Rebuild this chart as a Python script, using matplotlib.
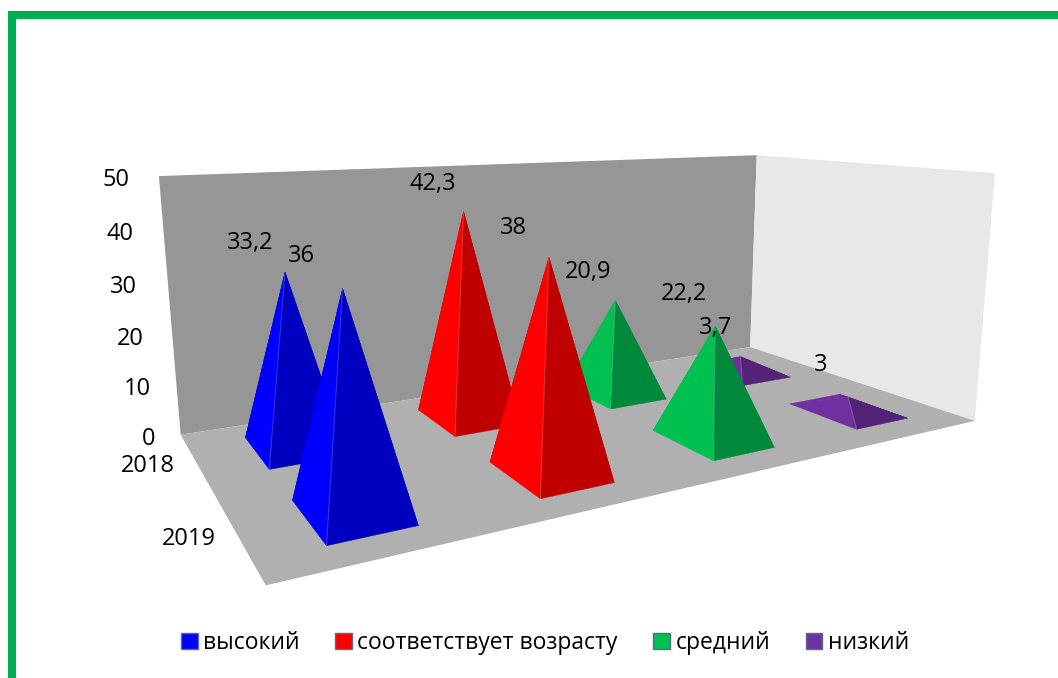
import numpy as np
import matplotlib
matplotlib.use('Agg')
import matplotlib.pyplot as plt
from matplotlib.patches import Patch, Rectangle
from mpl_toolkits.mplot3d import proj3d
from mpl_toolkits.mplot3d.art3d import Poly3DCollection

plt.rcParams['font.family'] = ['Open Sans', 'DejaVu Sans']

categories = ['высокий', 'соответствует возрасту', 'средний', 'низкий']
years = ['2019', '2018']
values_2018 = [33.2, 42.3, 20.9, 3.7]
values_2019 = [36, 38, 22.2, 3]
labels_2018 = ['33,2', '42,3', '20,9', '3,7']
labels_2019 = ['36', '38', '22,2', '3']
z_ticks = [0, 10, 20, 30, 40, 50]

light = ['#0000FF', '#FF0000', '#00C050', '#7030A0']
dark = ['#0000C0', '#C00000', '#00893A', '#542378']

# label nudges in pixels, the original chart does not place them evenly
offsets_2018 = [(-35, 29), (-31, 27), (-27, 28), (-25, 29)]
offsets_2019 = [(-41, 33), (-36, 29), (-31, 32), (-27, 32)]
tick_dx = [-32, -39, -42, -44, -43, -43]

W, H = 1058, 678
half_w, half_d = 0.2013, 0.2743
font_size = 17

fig = plt.figure(figsize=(W / 100, H / 100), dpi=100)
# camera settings fitted to the corners of the original box
ax = fig.add_axes([160.09 / W, -52.74 / H, 830.32 / W, 830.32 / H], projection='3d', computed_zorder=False)
ax.set_xlim(0, 4, view_margin=0)
ax.set_ylim(0, 2, view_margin=0)
ax.set_zlim(0, 50, view_margin=0)
ax.view_init(elev=11.58, azim=-120.1, roll=-0.04)
ax.set_proj_type('persp', focal_length=0.2246)
ax.set_box_aspect((2.818, 1.427, 1))
ax.set_axis_off()
M = ax.get_proj()


def add_polys(faces, colors, zorder, lw=0):
    poly = Poly3DCollection(faces, facecolors=colors, edgecolors=colors if lw else 'none', linewidths=lw, zorder=zorder)
    poly.set_clip_on(False)
    ax.add_collection3d(poly)


def pyramid(xc, yc, h, colors, zorder):
    x0, x1, y0, y1 = xc - half_w, xc + half_w, yc - half_d, yc + half_d
    tip = (xc, yc, h)
    faces = [[(x0, y1, 0), (x1, y1, 0), tip], [(x1, y1, 0), (x1, y0, 0), tip],
             [(x0, y1, 0), (x0, y0, 0), tip], [(x0, y0, 0), (x1, y0, 0), tip]]
    add_polys(faces, [colors[0], colors[1], colors[0], colors[1]], zorder, lw=0.3)
    # faint lighter line on the front ridge
    ax.plot([x0, xc], [y0, yc], [0, h], color='white', alpha=0.2, lw=0.8, zorder=zorder + 0.5)


def label3d(x, y, z, text, offset):
    u, v, _ = proj3d.proj_transform(x, y, z, M)
    ax.annotate(text, xy=(u, v), xytext=offset, textcoords='offset pixels', ha='center', va='center',
                fontsize=font_size, color='black', annotation_clip=False, zorder=30)


# walls and floor
add_polys([[(0, 2, 0), (4, 2, 0), (4, 2, 50), (0, 2, 50)]], '#969696', 1)
add_polys([[(4, 2, 0), (4, 0, 0), (4, 0, 50), (4, 2, 50)]], '#E8E8E8', 1)
add_polys([[(0, 0, 0), (4, 0, 0), (4, 2, 0), (0, 2, 0)]], '#B0B0B0', 2)

# back row first so the 2019 row covers it
for row, vals, labs, offs, z in [(1.5, values_2018, labels_2018, offsets_2018, 3),
                                 (0.5, values_2019, labels_2019, offsets_2019, 10)]:
    for i in range(4):
        pyramid(i + 0.5, row, vals[i], (light[i], dark[i]), z + i)
        label3d(i + 0.5, row, vals[i], labs[i], offs[i])

for t, dx in zip(z_ticks, tick_dx):
    label3d(0, 2, t, str(t), (dx, -4))
for yy, lab in zip([0.5, 1.5], years):
    label3d(0, yy, 0, lab, (-49, -3))

handles = [Patch(facecolor=c, edgecolor='#5A6A8A', label=n) for c, n in zip(light, categories)]
fig.legend(handles=handles, loc='center', bbox_to_anchor=(545 / W, 1 - 643 / H), ncol=4, frameon=False,
           fontsize=16.5, handlelength=0.74, handleheight=0.74, handletextpad=0.22, columnspacing=1.55)

# green frame, only its top and left sides fall inside the picture
fig.add_artist(Rectangle((12 / W, -0.1), 1.2, 1.1 - 15 / H, transform=fig.transFigure, fill=False,
                         edgecolor='#00B050', linewidth=5.8))

fig.savefig('out.png', dpi=100)
